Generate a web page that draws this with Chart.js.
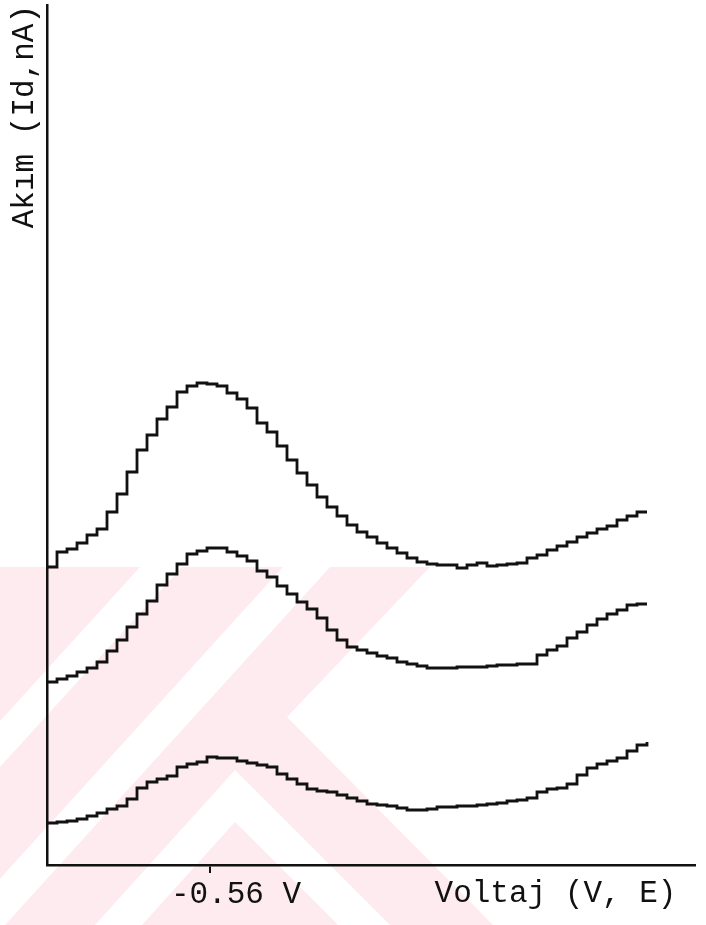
<!DOCTYPE html>
<html>
<head>
<meta charset="utf-8">
<script src="https://cdn.jsdelivr.net/npm/chart.js@4.4.0/dist/chart.umd.min.js"></script>
<style>html,body{margin:0;padding:0;background:#fff}</style>
</head>
<body>
<canvas id="myChart" width="706" height="925"></canvas>
<script>
// sample positions along the voltage sweep (one per recorder step)
const steps = [0,1,2,3,4,5,6,7,8,9,10,11,12,13,14,15,16,17,18,19,20,21,22,23,24,25,26,27,28,29,30,
  31,32,33,34,35,36,37,38,39,40,41,42,43,44,45,46,47,48,49,50,51,52,53,54,55,56,57,58,59,60];

// current readings (arbitrary units), top curve to bottom curve
const curveTop = [29.8,31.3,31.6,32.2,33.0,33.6,35.3,37.1,39.3,41.5,43.0,44.6,45.8,47.3,47.9,48.2,48.1,47.9,47.2,46.6,45.7,
  44.2,43.3,41.9,40.5,39.2,38.0,36.8,35.8,34.9,34.0,33.3,32.8,32.2,31.7,31.2,30.7,30.3,30.1,30.0,30.0,
  29.7,30.0,30.2,29.9,30.0,30.1,30.2,30.7,31.0,31.5,31.9,32.3,32.8,33.2,33.6,33.9,34.5,34.9,35.3,35.3];
const curveMid = [18.3,18.6,18.9,19.3,19.7,20.3,21.4,22.5,23.8,25.1,26.4,28.0,29.1,30.1,31.1,31.4,31.7,31.7,31.3,30.9,30.4,
  29.4,28.8,27.9,27.1,26.3,25.6,24.7,23.5,22.5,21.8,21.5,21.2,20.9,20.7,20.3,20.1,19.9,19.7,19.7,19.7,
  19.8,19.8,19.8,19.9,20.0,20.0,20.1,20.1,21.0,21.5,21.9,22.7,23.3,24.0,24.6,25.1,25.5,26.0,26.1,26.1];
const curveLow = [4.2,4.3,4.4,4.6,4.9,5.2,5.6,5.9,6.6,7.7,8.3,8.6,8.9,9.8,10.1,10.3,10.8,10.7,10.7,10.4,10.2,
  10.0,9.8,9.1,8.6,8.1,7.6,7.4,7.3,7.0,6.7,6.4,6.1,6.0,5.9,5.7,5.5,5.5,5.6,5.8,5.8,
  5.9,5.9,6.0,6.1,6.2,6.4,6.5,6.7,7.3,7.6,7.7,8.1,9.0,9.7,10.1,10.4,10.7,11.4,12.0,12.3];

// peak potential marker
const tickValues = [16.3];
const tickLabels = ['-0.56 V'];

const mono = 'Liberation Mono';
const ink = '#111';
const pink = '#fdebef';

function series(vals) {
  return {
    data: steps.map((s, i) => ({x: s, y: vals[i]})),
    borderColor: ink,
    borderWidth: 2.8,
    pointRadius: 0,
    stepped: true,
    fill: false
  };
}

function poly(c, pts, color) {
  c.fillStyle = color;
  c.beginPath();
  pts.forEach((p, i) => i ? c.lineTo(p[0], p[1]) : c.moveTo(p[0], p[1]));
  c.closePath();
  c.fill();
}

// pale scanner watermark behind the plot
const watermark = {
  id: 'watermark',
  beforeDraw(chart) {
    const c = chart.ctx;
    c.save();
    poly(c, [[0,567],[430,567],[287,717],[493,925],[0,925]], pink);
    poly(c, [[140,567],[182,567],[0,767],[0,721]], '#fff');
    poly(c, [[283,567],[330,567],[5,925],[-42,925]], '#fff');
    poly(c, [[235,770],[390,925],[95,925]], '#fff');
    poly(c, [[235,822],[338,925],[142,925]], pink);
    c.restore();
  }
};

const ctx = document.getElementById('myChart').getContext('2d');
const myChart = new Chart(ctx, {
  type: 'line',
  data: {
    datasets: [series(curveTop), series(curveMid), series(curveLow)]
  },
  options: {
    responsive: false,
    animation: false,
    layout: {padding: {top: 5, right: 11, left: 0, bottom: 0}},
    plugins: {legend: {display: false}, tooltip: {enabled: false}},
    scales: {
      x: {
        type: 'linear',
        min: 0,
        max: 64.8,
        afterBuildTicks: s => { s.ticks = tickValues.map(v => ({value: v})); },
        afterFit: s => { s.height = 60; },
        ticks: {
          callback: (v, i) => tickLabels[i],
          font: {family: mono, size: 31},
          color: ink,
          labelOffset: 26,
          padding: 3,
          maxRotation: 0,
          autoSkip: false
        },
        grid: {drawOnChartArea: false, tickLength: 8, color: ink, lineWidth: 2},
        border: {color: ink, width: 2.5},
        title: {
          display: true,
          text: 'Voltaj (V, E) ',
          align: 'end',
          color: ink,
          font: {family: mono, size: 31},
          padding: {top: 0, bottom: 13}
        }
      },
      y: {
        min: 0,
        max: 86,
        afterFit: s => { s.width = 47; },
        ticks: {display: false},
        grid: {display: false, drawTicks: false},
        border: {color: ink, width: 2.5},
        title: {
          display: true,
          text: 'Akım (Id,nA)',
          align: 'end',
          color: ink,
          font: {family: mono, size: 31},
          padding: {top: 6, bottom: 0}
        }
      }
    }
  },
  plugins: [watermark]
});
</script>
</body>
</html>
